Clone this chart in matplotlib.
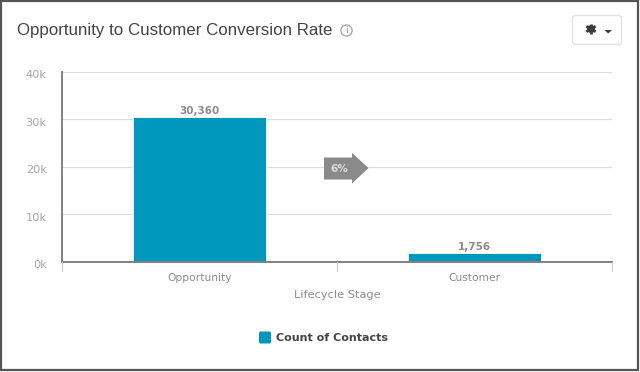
"""Opportunity to Customer conversion bar chart, dashboard card style."""
import matplotlib
matplotlib.use('Agg')
import matplotlib.pyplot as plt
from matplotlib.patches import Polygon, Rectangle, FancyBboxPatch, Circle
from matplotlib.transforms import ScaledTranslation
import numpy as np

categories = ['Opportunity', 'Customer']
contacts = [30360, 1756]
bar_labels = ['30,360', '1,756']
yticks = [0, 10000, 20000, 30000, 40000]
ytick_labels = ['0k', '10k', '20k', '30k', '40k']
title = 'Opportunity to Customer Conversion Rate'
xlabel = 'Lifecycle Stage'
legend_label = 'Count of Contacts'
rate_label = '6%'

W, H = 640, 372
BAR = '#0097bd'
LAB = '#8c8c8c'

fig = plt.figure(figsize=(W/100, H/100), dpi=100, facecolor='white')

# card frame sits behind the plot
back = fig.add_axes([0, 0, 1, 1], zorder=0)
back.set_xlim(0, W); back.set_ylim(H, 0); back.axis('off')
back.add_patch(Rectangle((0.8, 0.8), W-3.2, H-2.6, fc='white', ec='#555555', lw=1.6))

# plot area
x0, x1, ytop, ybot = 62, 612, 71.5, 261.5
ax = fig.add_axes([x0/W, 1-ybot/H, (x1-x0)/W, (ybot-ytop)/H], zorder=1)
ax.patch.set_alpha(0)
pos = np.arange(len(categories))
ax.bar(pos, contacts, width=0.483, color=BAR, edgecolor='white', linewidth=0.6, zorder=3)
ax.set_xlim(-0.5, 1.5); ax.set_ylim(0, 40000)
ax.set_yticks(yticks); ax.set_yticklabels(ytick_labels, fontsize=8.2, color='#a6a6a6')
ax.set_xticks(pos); ax.set_xticklabels(categories, fontsize=7.7, color=LAB)
ax.tick_params(axis='y', length=0, pad=11)
ax.tick_params(axis='x', length=0, pad=8)
# y labels sit a little below their gridlines
for lbl in ax.get_yticklabels():
    lbl.set_transform(lbl.get_transform() + ScaledTranslation(0, -2/72, fig.dpi_scale_trans))
ax.grid(axis='y', color='#dddddd', lw=0.9, zorder=1)
ax.set_axisbelow(True)
for s in ['top', 'right']:
    ax.spines[s].set_visible(False)
ax.spines['left'].set_color('#808080'); ax.spines['left'].set_linewidth(1.4)
ax.spines['bottom'].set_color('#808080'); ax.spines['bottom'].set_linewidth(1.4)
ax.spines['bottom'].set_zorder(4)
for v, lab, p in zip(contacts, bar_labels, pos):
    ax.annotate(lab, (p, v), xytext=(0, 0.8), textcoords='offset points', ha='center', va='bottom',
                fontsize=7.5, color=LAB, fontweight='bold', zorder=5)

# everything else goes on a transparent pixel overlay
bg = fig.add_axes([0, 0, 1, 1], zorder=2)
bg.set_xlim(0, W); bg.set_ylim(H, 0); bg.axis('off')

# category separators under the axis
for xp in [62, 337, 612]:
    bg.plot([xp, xp], [262, 271], color='#cccccc', lw=0.8)

bg.text(337.5, 295.5, xlabel, ha='center', va='center', fontsize=8.2, color=LAB)

# title + info icon
bg.text(17, 30.5, title, ha='left', va='center', fontsize=12.15, color='#444444', family='Liberation Sans')
bg.add_patch(Circle((346.5, 30.5), 5.6, fc='white', ec='#9aa5a5', lw=0.9))
bg.text(346.5, 30.8, 'i', ha='center', va='center', fontsize=6.5, color='#8a9595')

# settings button
bg.add_patch(FancyBboxPatch((572.5, 15.5), 49, 29, boxstyle='round,pad=0,rounding_size=3', fc='white', ec='#dfe3e3', lw=1))
th = np.linspace(0, 2*np.pi, 6, endpoint=False) + np.pi/2
for t in th:
    bg.plot([591, 591+5.4*np.cos(t)], [29, 29+5.4*np.sin(t)], color='#3c3c3c', lw=2.0, solid_capstyle='butt')
bg.add_patch(Circle((591, 29), 4.0, fc='#3c3c3c', ec='none'))
bg.add_patch(Circle((591, 29), 1.5, fc='white', ec='none'))
bg.add_patch(Polygon([(604.5, 30), (612, 30), (608.2, 33.5)], fc='#3c3c3c', ec='none'))

# conversion arrow
bg.add_patch(Polygon([(324, 157.5), (352, 157.5), (352, 153), (368.5, 168), (352, 183.5), (352, 179.5), (324, 179.5)],
                     fc='#8a8a8a', ec='none'))
bg.text(339.5, 168.5, rate_label, ha='center', va='center', fontsize=7.5, color='#dddddd', fontweight='bold')

# legend
bg.add_patch(FancyBboxPatch((259, 331.5), 12, 12, boxstyle='round,pad=0,rounding_size=1.8', fc=BAR, ec='none'))
bg.text(276, 338, legend_label, ha='left', va='center', fontsize=8.05, color='#444444', fontweight='bold')

fig.savefig('out.png', dpi=100)
